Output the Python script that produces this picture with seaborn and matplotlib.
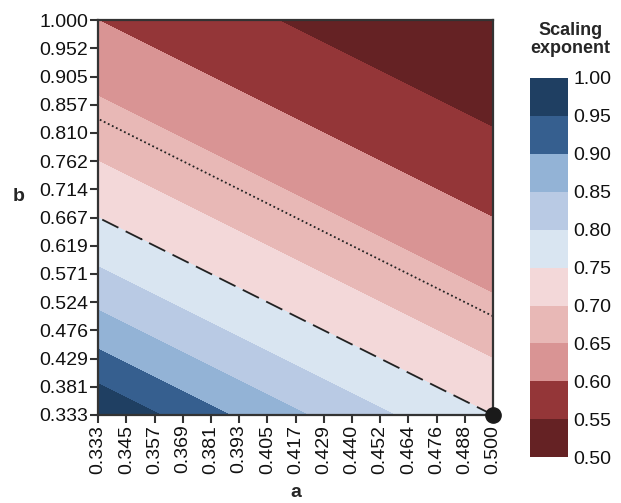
import matplotlib
matplotlib.use("Agg")
import matplotlib.pyplot as plt
import numpy as np
import seaborn as sns

# axis ranges and tick labels
a_ticks = [0.333, 0.345, 0.357, 0.369, 0.381, 0.393, 0.405, 0.417,
           0.429, 0.440, 0.452, 0.464, 0.476, 0.488, 0.500]
b_ticks = [0.333, 0.381, 0.429, 0.476, 0.524, 0.571, 0.619, 0.667,
           0.714, 0.762, 0.810, 0.857, 0.905, 0.952, 1.000]
a_range = [1 / 3, 0.5]
b_range = [1 / 3, 1.0]

levels = [0.50, 0.55, 0.60, 0.65, 0.70, 0.75, 0.80, 0.85, 0.90, 0.95, 1.00]
band_colors = ["#652224", "#943638", "#d99494", "#e8b8b6", "#f3d8d9",
               "#d9e5f1", "#b9cae4", "#93b3d6", "#365f8f", "#1f3f62"]
dashed_level = 0.75
dotted_level = 2 / 3
marker_point = (0.5, 1 / 3)

sns.set_theme(style="ticks")
plt.rcParams["font.family"] = ["Liberation Sans", "DejaVu Sans"]

# scaling exponent model 1 / (2a + b) evaluated on a grid
a = np.linspace(a_range[0], a_range[1], 300)
b = np.linspace(b_range[0], b_range[1], 300)
A, B = np.meshgrid(a, b)
exponent = 1.0 / (2 * A + B)

fig = plt.figure(figsize=(6.21, 5.03), dpi=100)
ax = fig.add_axes([0.158, 0.175, 0.636, 0.785])
cax = fig.add_axes([0.853, 0.091, 0.061, 0.754])

cf = ax.contourf(A, B, exponent, levels=levels, colors=band_colors)
ax.contour(A, B, exponent, levels=[dotted_level], colors="#222222",
           linestyles=[(0, (1, 1.5))], linewidths=1.3)
ax.contour(A, B, exponent, levels=[dashed_level], colors="#222222",
           linestyles=[(0, (10, 4.5))], linewidths=1.3)
ax.plot(*marker_point, "o", color="#1a1a1a", markersize=11, clip_on=False, zorder=5)

ax.set_xlim(a_range)
ax.set_ylim(b_range)
ax.set_xticks(np.linspace(a_range[0], a_range[1], len(a_ticks)))
ax.set_xticklabels([f"{v:.3f}" for v in a_ticks], rotation=90)
ax.set_yticks(np.linspace(b_range[0], b_range[1], len(b_ticks)))
ax.set_yticklabels([f"{v:.3f}" for v in b_ticks])
ax.tick_params(labelsize=14, length=6, width=1.5, color="#333333", pad=1,
               labelcolor="#111111")
for s in ax.spines.values():
    s.set_linewidth(1.6)
    s.set_color("#333333")
ax.set_xlabel("a", fontsize=14, fontweight="bold", va="center")
ax.xaxis.set_label_coords(0.5, -0.197)
ax.set_ylabel("b", fontsize=14, fontweight="bold", rotation=0, va="center",
              ha="center")
ax.yaxis.set_label_coords(-0.2, 0.553)

cb = fig.colorbar(cf, cax=cax, ticks=levels)
cb.outline.set_visible(False)
cb.ax.tick_params(length=0, labelsize=14, pad=4, labelcolor="#111111")
cb.ax.set_yticklabels([f"{v:.2f}" for v in levels])
fig.text(0.918, 0.956, "Scaling\nexponent", ha="center", va="top",
         fontsize=13, fontweight="bold", linespacing=1.1)

fig.savefig("out.png", dpi=100)
